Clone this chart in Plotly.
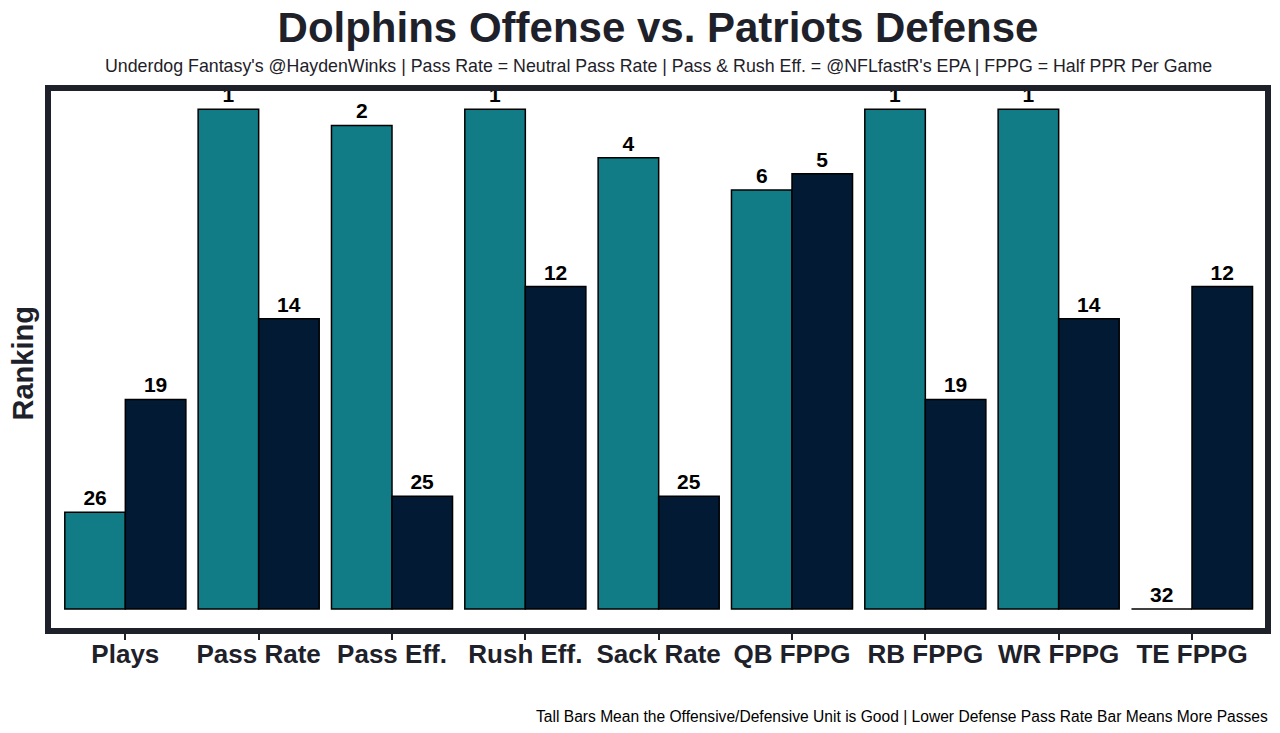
import plotly.graph_objects as go

categories = ["Plays", "Pass Rate", "Pass Eff.", "Rush Eff.", "Sack Rate",
              "QB FPPG", "RB FPPG", "WR FPPG", "TE FPPG"]
offense_rank = [26, 1, 2, 1, 4, 6, 1, 1, 32]
defense_rank = [19, 14, 25, 12, 25, 5, 19, 14, 12]

TEAL = "#117C85"
NAVY = "#021A33"
DARK = "#1E2129"

def heights(ranks):
    return [32 - r for r in ranks]

fig = go.Figure()
for name, ranks, color in [("Dolphins Offense", offense_rank, TEAL),
                           ("Patriots Defense", defense_rank, NAVY)]:
    fig.add_trace(go.Bar(
        x=categories, y=heights(ranks), name=name,
        marker=dict(color=color, line=dict(color="black", width=1.5)),
        text=[str(r) for r in ranks], textposition="outside",
        textfont=dict(family="Liberation Sans", size=21, color="black", weight="bold"),
        cliponaxis=False,
    ))

fig.update_layout(
    width=1280, height=733,
    barmode="group", bargap=0.092, bargroupgap=0,
    showlegend=False,
    plot_bgcolor="white", paper_bgcolor="white",
    margin=dict(l=40, r=20, t=80, b=110, autoexpand=False),
    title=dict(text="<b>Dolphins Offense vs. Patriots Defense</b>",
               x=650/1280, xanchor="center", y=1 - 19/733, yanchor="middle",
               font=dict(family="Liberation Sans", size=42, color=DARK)),
    xaxis=dict(range=[-0.58, 8.57], showgrid=False, zeroline=False, automargin=False,
               ticks="outside", ticklen=8, tickwidth=1.5, tickcolor=DARK,
               ticklabelstandoff=-8,
               tickfont=dict(family="Liberation Sans", size=26, color=DARK, weight="bold"),
               showline=False),
    yaxis=dict(range=[-1.365, 32.32], showgrid=False, zeroline=False, automargin=False,
               showticklabels=False, ticks=""),
    annotations=[
        dict(text="<b>Ranking</b>", xref="paper", yref="paper", x=0, xshift=-26, y=0.5, yshift=-4,
             xanchor="center", yanchor="middle", textangle=-90, showarrow=False,
             font=dict(family="Liberation Sans", size=29, color=DARK)),
        dict(text="Underdog Fantasy's @HaydenWinks | Pass Rate = Neutral Pass Rate | Pass & Rush Eff. = @NFLfastR's EPA | FPPG = Half PPR Per Game",
             xref="paper", yref="paper", x=0.5, y=1, yshift=22, xanchor="center", yanchor="middle",
             showarrow=False, font=dict(family="Liberation Sans", size=17.8, color=DARK)),
        dict(text="Tall Bars Mean the Offensive/Defensive Unit is Good | Lower Defense Pass Rate Bar Means More Passes",
             xref="paper", yref="paper", x=1, xshift=2, y=0, yshift=-85, xanchor="right", yanchor="middle",
             showarrow=False, font=dict(family="Liberation Sans", size=15.6, color="black")),
    ],
    shapes=[dict(type="rect", xref="paper", yref="paper", x0=0, x1=1, y0=0, y1=1,
                 line=dict(color=DARK, width=6), layer="above")],
)

fig.write_html("out.html")
